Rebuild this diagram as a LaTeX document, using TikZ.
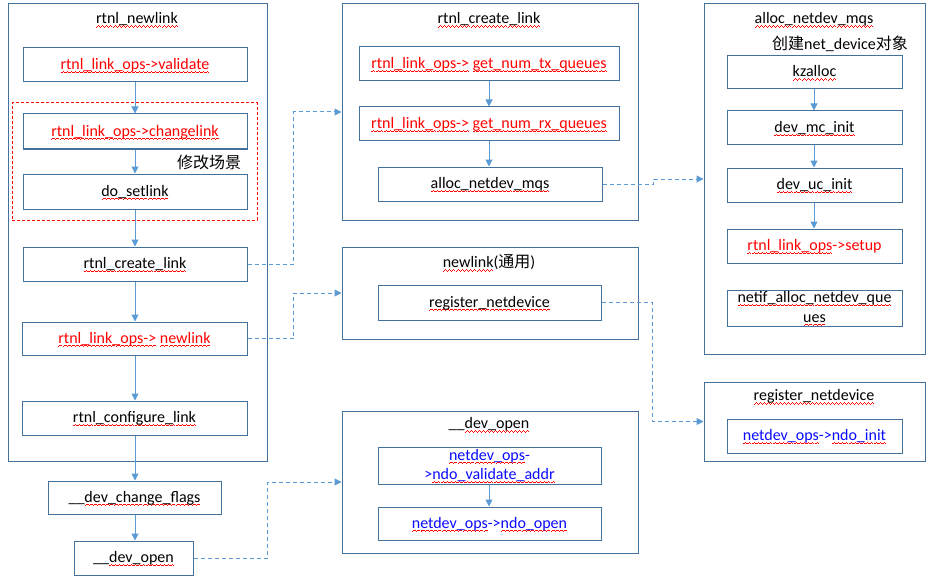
\documentclass[tikz,border=0pt]{standalone}
\usepackage{fontspec}
\setmainfont{Carlito}
\newfontfamily\cjk{Noto Sans CJK SC}
\usetikzlibrary{arrows.meta}
\definecolor{frame}{RGB}{65,113,156}
\definecolor{link}{RGB}{91,155,213}
\definecolor{opsred}{RGB}{255,0,0}
\definecolor{opsblue}{RGB}{10,10,255}
% wavy red underline, as drawn by a spell checker (built from small rules)
\newcommand\wavedot[1]{\raise#1\hbox{\vrule width1pt height0.7pt depth0pt}}
\newcommand\waveunit{\hbox{\wavedot{0pt}\wavedot{0.7pt}\wavedot{1.4pt}\wavedot{0.7pt}}}
\newsavebox\sqbox
\newcommand\sq[1]{\leavevmode\sbox\sqbox{#1}%
  \rlap{\lower3.6pt\hbox to\wd\sqbox{\color{opsred}\xleaders\waveunit\hfill}}%
  \usebox\sqbox}
\tikzset{
  cell/.style={draw=frame, line width=1pt, inner sep=1pt, text height=11pt, text depth=2pt},
  lbl/.style={inner sep=0pt},
  arr/.style={draw=link, line width=1pt, -{Triangle[length=7pt,width=7pt]}},
  darr/.style={draw=link, line width=1pt, dash pattern=on 4pt off 3pt, -{Triangle[length=7pt,width=7pt]}},
  red/.style={text=opsred},
  blue/.style={text=opsblue},
  twoline/.style={text height=, text depth=, align=center, font=\fontsize{16}{19.5}\selectfont},
}
\begin{document}
\begin{tikzpicture}[x=1pt,y=-1pt,font=\fontsize{16}{17}\selectfont]
\useasboundingbox (0,0) rectangle (934,583);

% ---- rtnl_newlink column ----
\node[draw=frame, line width=1pt, minimum width=259pt, minimum height=457pt] (newlinkbox) at (137.5,232.5) {};
\node[lbl] (newlinktitle) at (137,20) {\sq{rtnl\_newlink}};
\node[cell, red, minimum width=224pt, minimum height=34pt] (validate) at (135,65) {\sq{rtnl\_link\_ops->validate}};
\node[draw=opsred, line width=1pt, dash pattern=on 3pt off 2pt, minimum width=245pt, minimum height=117pt] (modify) at (134.5,161.5) {};
\node[cell, red, minimum width=224pt, minimum height=35pt] (changelink) at (135,131.5) {\sq{rtnl\_link\_ops->changelink}};
\node[lbl] (modifylbl) at (209,162) {\cjk 修改场景};
\node[cell, minimum width=224pt, minimum height=35pt] (setlink) at (135,191.5) {\sq{do\_setlink}};
\node[cell, minimum width=224pt, minimum height=34pt] (create) at (135,264) {\sq{rtnl\_create\_link}};
\node[cell, red, minimum width=225pt, minimum height=33pt] (newlinkops) at (134.5,338.5) {\sq{rtnl\_link\_ops->} \sq{newlink}};
\node[cell, minimum width=225pt, minimum height=34pt] (configure) at (134.5,418) {\sq{rtnl\_configure\_link}};
\node[cell, minimum width=173pt, minimum height=33pt] (changeflags) at (134.5,497.5) {\_\_\sq{dev\_change\_flags}};
\node[cell, minimum width=119pt, minimum height=34pt] (devopen) at (133.5,558) {\_\_\sq{dev\_open}};

\draw[arr] (validate.south -| 135,0) -- (changelink.north -| 135,0);
\draw[arr] (changelink.south -| 135,0) -- (setlink.north -| 135,0);
\draw[arr] (setlink.south -| 135,0) -- (create.north -| 135,0);
\draw[arr] (create.south -| 135,0) -- (newlinkops.north -| 135,0);
\draw[arr] (newlinkops.south -| 135,0) -- (configure.north -| 135,0);
\draw[arr] (configure.south -| 135,0) -- (changeflags.north -| 135,0);
\draw[arr] (changeflags.south -| 135,0) -- (devopen.north -| 135,0);

% ---- rtnl_create_link ----
\node[draw=frame, line width=1pt, minimum width=296pt, minimum height=216pt] (createbox) at (490,112) {};
\node[lbl] (createtitle) at (489,20) {\sq{rtnl\_create\_link}};
\node[cell, red, minimum width=260pt, minimum height=34pt] (txq) at (489,64) {\sq{rtnl\_link\_ops->} \sq{get\_num\_tx\_queues}};
\node[cell, red, minimum width=260pt, minimum height=34pt] (rxq) at (489,124) {\sq{rtnl\_link\_ops->} \sq{get\_num\_rx\_queues}};
\node[cell, minimum width=224pt, minimum height=34pt] (allocmqs) at (490,184) {\sq{alloc\_netdev\_mqs}};
\draw[arr] (txq.south -| 489,0) -- (rxq.north -| 489,0);
\draw[arr] (rxq.south -| 489,0) -- (allocmqs.north -| 489,0);

% ---- newlink (generic) ----
\node[draw=frame, line width=1pt, minimum width=296pt, minimum height=92pt] (genericbox) at (490,293) {};
\node[lbl] (generictitle) at (489,263) {\sq{newlink}({\cjk 通用})};
\node[cell, minimum width=223pt, minimum height=35pt] (regnet) at (489.5,302.5) {\sq{register\_netdevice}};

% ---- __dev_open ----
\node[draw=frame, line width=1pt, minimum width=296pt, minimum height=142pt] (openbox) at (490,482) {};
\node[lbl] (opentitle) at (489,425) {\_\_\sq{dev\_open}};
\node[cell, blue, twoline, minimum width=223pt, minimum height=34pt] (valaddr) at (489.5,466) {\sq{netdev\_ops}-\\>\sq{ndo\_validate\_addr}};
\node[cell, blue, minimum width=223pt, minimum height=33pt] (ndoopen) at (489.5,523.5) {\sq{netdev\_ops}->\sq{ndo\_open}};
\draw[arr] (valaddr.south -| 489,0) -- (ndoopen.north -| 489,0);

% ---- alloc_netdev_mqs ----
\node[draw=frame, line width=1pt, minimum width=221pt, minimum height=350pt] (mqsbox) at (814.5,179) {};
\node[lbl] (mqstitle) at (814,20) {\sq{alloc\_netdev\_mqs}};
\node[lbl] (mqsnote) at (840,44) {{\cjk 创建}net\_device{\cjk 对象}};
\node[cell, minimum width=175pt, minimum height=33pt] (kzalloc) at (814.5,72.5) {\sq{kzalloc}};
\node[cell, minimum width=175pt, minimum height=34pt] (mcinit) at (814.5,128) {\sq{dev\_mc\_init}};
\node[cell, minimum width=175pt, minimum height=34pt] (ucinit) at (814.5,185) {\sq{dev\_uc\_init}};
\node[cell, red, minimum width=175pt, minimum height=34pt] (setup) at (814.5,246) {\sq{rtnl\_link\_ops}->setup};
\node[cell, twoline, minimum width=175pt, minimum height=35pt] (netifq) at (814.5,308.5) {\sq{netif\_alloc\_netdev\_que}\\\sq{ues}};
\draw[arr] (kzalloc.south -| 814,0) -- (mcinit.north -| 814,0);
\draw[arr] (mcinit.south -| 814,0) -- (ucinit.north -| 814,0);
\draw[arr] (ucinit.south -| 814,0) -- (setup.north -| 814,0);

% ---- register_netdevice ----
\node[draw=frame, line width=1pt, minimum width=221pt, minimum height=79pt] (regbox) at (814.5,421.5) {};
\node[lbl] (regtitle) at (814,397) {\sq{register\_netdevice}};
\node[cell, blue, minimum width=175pt, minimum height=34pt] (ndoinit) at (814.5,436) {\sq{netdev\_ops}->\sq{ndo\_init}};

% ---- calls into other functions ----
\draw[darr] (create.east) -- ++(46,0) |- (createbox.west);
\draw[darr] (newlinkops.east) -- ++(46,0) |- (genericbox.west);
\draw[darr] (devopen.east) -- ++(74,0) |- (openbox.west);
\draw[darr] (allocmqs.east) -- ++(51,0) -- ++(0,-5) -- (mqsbox.west);
\draw[darr] (regnet.east) -- ++(51,0) |- (regbox.west);
\end{tikzpicture}
\end{document}
